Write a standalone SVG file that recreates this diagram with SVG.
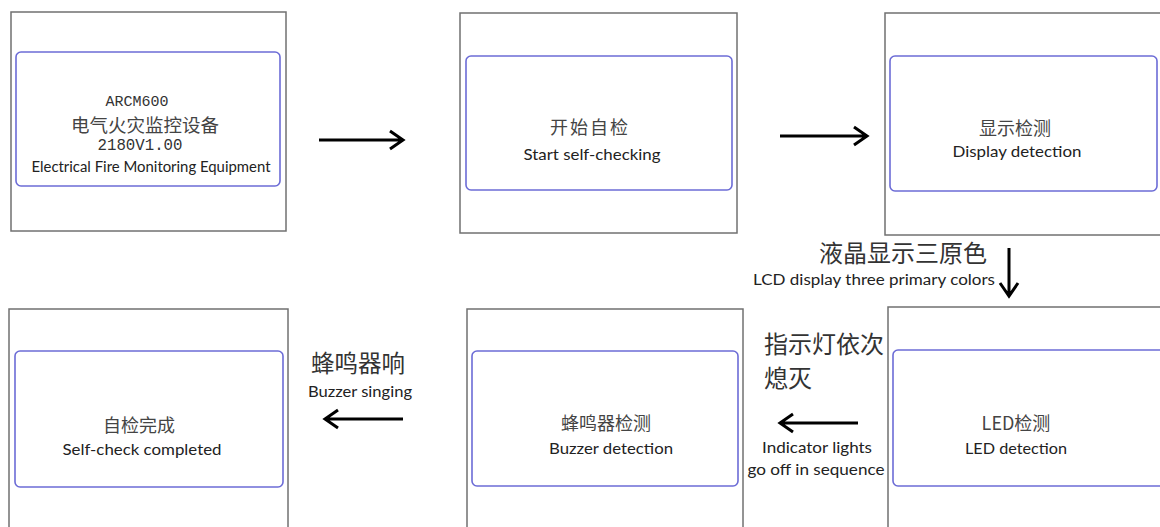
<svg xmlns="http://www.w3.org/2000/svg" width="1160" height="527" viewBox="0 0 1160 527">
<style>
.outer{fill:#fff;stroke:#707070;stroke-width:1.5}
.inner{fill:#fff;stroke:#6c6cd6;stroke-width:1.6}
.cn{font-family:"Noto Sans CJK SC",sans-serif;fill:#444;text-anchor:middle}
.en{font-family:Lato,"Liberation Sans",sans-serif;fill:#222;text-anchor:middle}
.mono{font-family:"Liberation Mono",monospace;fill:#333;text-anchor:middle}
.lbl{font-family:"Noto Sans CJK SC",sans-serif;fill:#333}
.arr{fill:none;stroke:#000;stroke-width:3}
</style>
<rect width="1160" height="527" fill="#fff"/>
<g id="node-start-screen">
<rect class="outer" x="11" y="12" width="275" height="219"/>
<rect class="inner" x="16" y="52" width="264" height="134" rx="5"/>
<text class="mono" x="137" y="106" font-size="15" textLength="63" lengthAdjust="spacingAndGlyphs">ARCM600</text>
<text class="cn" x="145" y="132" font-size="18.5">电气火灾监控设备</text>
<text class="mono" x="140" y="150" font-size="16" textLength="85" lengthAdjust="spacingAndGlyphs">2180V1.00</text>
<text class="en" x="151" y="172" font-size="14.5" textLength="239" lengthAdjust="spacingAndGlyphs">Electrical Fire Monitoring Equipment</text>
</g>
<g id="node-start-check">
<rect class="outer" x="460" y="13" width="277" height="220"/>
<rect class="inner" x="466" y="56" width="266" height="134" rx="5"/>
<text class="cn" x="590" y="134" font-size="18" letter-spacing="2">开始自检</text>
<text class="en" x="592" y="160" font-size="15" textLength="137" lengthAdjust="spacingAndGlyphs">Start self-checking</text>
</g>
<g id="node-display">
<rect class="outer" x="885" y="13" width="290" height="222"/>
<rect class="inner" x="890" y="56" width="267" height="135" rx="5"/>
<text class="cn" x="1015" y="135" font-size="18">显示检测</text>
<text class="en" x="1017" y="157" font-size="15" textLength="129" lengthAdjust="spacingAndGlyphs">Display detection</text>
</g>
<g id="node-led">
<rect class="outer" x="888" y="307" width="290" height="230"/>
<rect class="inner" x="893" y="350" width="280" height="136" rx="5"/>
<text class="cn" x="1016" y="430" font-size="18">LED检测</text>
<text class="en" x="1016" y="454" font-size="15" textLength="102" lengthAdjust="spacingAndGlyphs">LED detection</text>
</g>
<g id="node-buzzer">
<rect class="outer" x="467" y="309" width="276" height="230"/>
<rect class="inner" x="472" y="351" width="266" height="135" rx="5"/>
<text class="cn" x="606" y="430" font-size="18">蜂鸣器检测</text>
<text class="en" x="611" y="454" font-size="15" textLength="124" lengthAdjust="spacingAndGlyphs">Buzzer detection</text>
</g>
<g id="node-complete">
<rect class="outer" x="9" y="309" width="279" height="230"/>
<rect class="inner" x="15" y="351" width="268" height="136" rx="5"/>
<text class="cn" x="139" y="432" font-size="18">自检完成</text>
<text class="en" x="142" y="455" font-size="15" textLength="159" lengthAdjust="spacingAndGlyphs">Self-check completed</text>
</g>
<g id="connectors">
<path class="arr" d="M319 140 H402 M390 131 L403 140 L390 149"/>
<path class="arr" d="M780 136 H866 M854 127 L867 136 L854 145"/>
<path class="arr" d="M1009 248 V294 M1000 283 L1009 296 L1018 283"/>
<path class="arr" d="M858 423 H781 M793 414 L780 423 L793 432"/>
<path class="arr" d="M403 419 H326 M338 410 L325 419 L338 428"/>
<text class="lbl" x="903" y="262" font-size="24" text-anchor="middle">液晶显示三原色</text>
<text class="en" x="874" y="285" font-size="14.5" textLength="242" lengthAdjust="spacingAndGlyphs">LCD display three primary colors</text>
<text class="lbl" x="764" y="353" font-size="24">指示灯依次</text>
<text class="lbl" x="764" y="387" font-size="24">熄灭</text>
<text class="en" x="817" y="453" font-size="15" textLength="110" lengthAdjust="spacingAndGlyphs">Indicator lights</text>
<text class="en" x="816" y="475" font-size="15" textLength="137" lengthAdjust="spacingAndGlyphs">go off in sequence</text>
<text class="lbl" x="358" y="372" font-size="23.5" text-anchor="middle">蜂鸣器响</text>
<text class="en" x="360" y="397" font-size="15" textLength="104" lengthAdjust="spacingAndGlyphs">Buzzer singing</text>
</g>
</svg>
